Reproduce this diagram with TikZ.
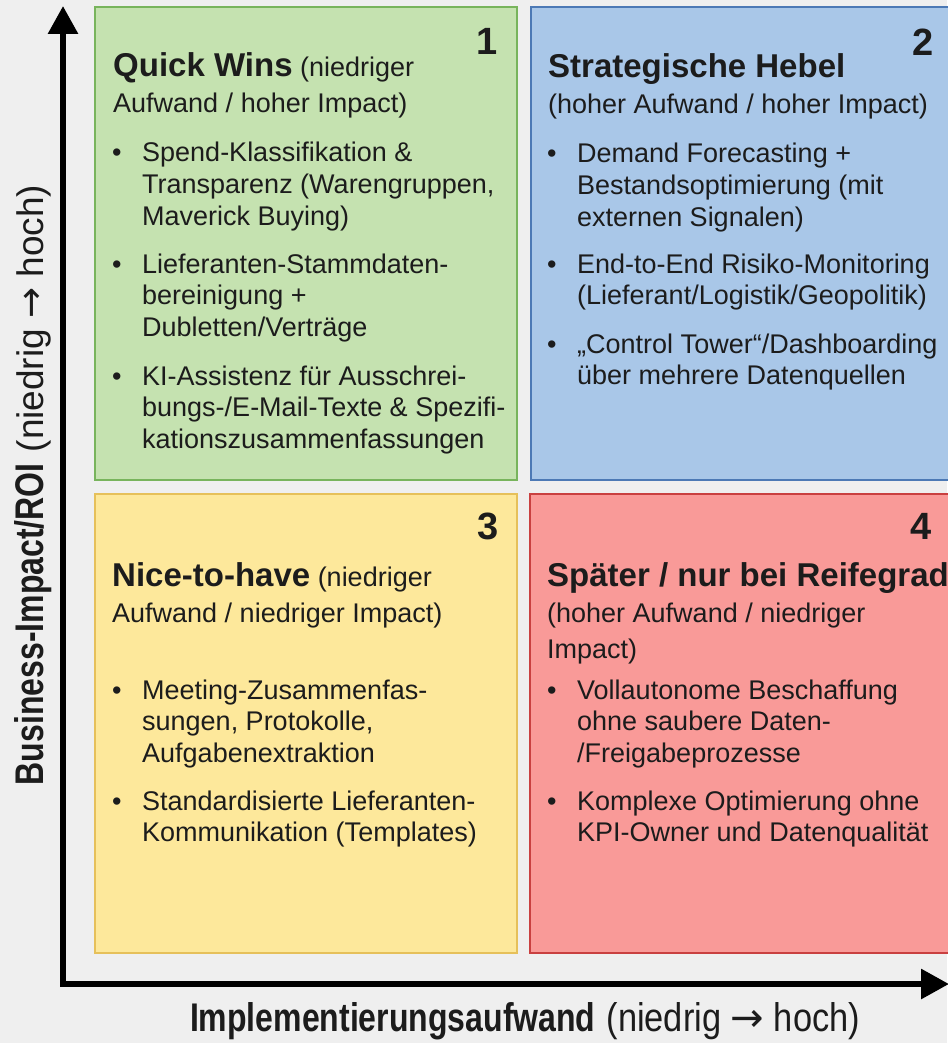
\documentclass[tikz,border=0pt]{standalone}
\usepackage{fontspec}
\setmainfont{Liberation Sans}
\newfontfamily\condfont[FakeStretch=0.80]{Liberation Sans}
\newfontfamily\condfontR[FakeStretch=0.86]{Liberation Sans}
\newfontfamily\arrowfont{DejaVu Sans}
\usetikzlibrary{arrows.meta}
\definecolor{bgc}{HTML}{EFEFEF}
\definecolor{txt}{HTML}{1C1C1C}
\definecolor{gfill}{HTML}{C5E2B0}
\definecolor{gline}{HTML}{78B45C}
\definecolor{bfill}{HTML}{A9C7E8}
\definecolor{bline}{HTML}{4C79B5}
\definecolor{yfill}{HTML}{FDE89B}
\definecolor{yline}{HTML}{E6C05A}
\definecolor{rfill}{HTML}{F99A98}
\definecolor{rline}{HTML}{C94040}
\newcommand{\qlines}[1]{\begin{tabular}[t]{@{}l@{}}#1\end{tabular}}
\newcommand{\bul}{\makebox[30pt][l]{•}}
\newcommand{\ttlfont}{\fontsize{33}{36}\selectfont\bfseries}
\newcommand{\rarr}{{\arrowfont →}}
\tikzset{
  quad/.style={line width=1.6pt},
  num/.style={font=\fontsize{38}{40}\selectfont\bfseries, inner sep=0pt, anchor=center, text=txt},
  ttl/.style={font=\fontsize{27}{36}\selectfont, inner sep=0pt, anchor=base west, text=txt},
  itm/.style={font=\fontsize{27}{31.5}\selectfont, inner sep=0pt, anchor=base west, text=txt},
  axis/.style={line width=6pt, line join=miter, draw=black,
    {Triangle[length=28pt,width=29pt]}-{Triangle[length=28pt,width=29pt]}},
  axlabel/.style={font=\fontsize{40}{44}\selectfont, inner sep=0pt, text=txt}
}
\begin{document}
\begin{tikzpicture}[x=1pt,y=-1pt]
\useasboundingbox (0,0) rectangle (947,1043);
\fill[bgc] (0,0) rectangle (947,1043);

% quadrants
\draw[quad, draw=gline, fill=gfill] (95,7) rectangle (517,480);
\draw[quad, draw=bline, fill=bfill] (531,7) rectangle (965,480);
\draw[quad, draw=yline, fill=yfill] (95,494) rectangle (517,953);
\draw[quad, draw=rline, fill=rfill] (530,494) rectangle (965,953);

% axes
\coordinate (ytip) at (63,6);
\coordinate (origin) at (63,984);
\coordinate (xtip) at (949,984);
\draw[axis] (ytip) -- (origin) -- (xtip);

% quadrant 1
\node[num] (n1) at (487,41) {1};
\node[ttl] (t1) at (113,77) {\qlines{{\ttlfont Quick Wins} (niedriger\\Aufwand / hoher Impact)}};
\node[itm] (g1) at (112,162) {\bul\qlines{Spend-Klassifikation \&\\Transparenz (Warengruppen,\\Maverick Buying)}};
\node[itm] (g2) at (112,273) {\bul\qlines{Lieferanten-Stammdaten-\\bereinigung +\\Dubletten/Verträge}};
\node[itm] (g3) at (112,385) {\bul\qlines{KI-Assistenz für Ausschrei-\\bungs-/E-Mail-Texte \& Spezifi-\\kationszusammenfassungen}};

% quadrant 2
\node[num] (n2) at (923,42) {2};
\node[ttl] (t2) at (548,78) {\qlines{{\ttlfont Strategische Hebel}\\(hoher Aufwand / hoher Impact)}};
\node[itm] (b1) at (547,163) {\bul\qlines{Demand Forecasting +\\Bestandsoptimierung (mit\\externen Signalen)}};
\node[itm] (b2) at (547,273) {\bul\qlines{End-to-End Risiko-Monitoring\\(Lieferant/Logistik/Geopolitik)}};
\node[itm] (b3) at (547,353) {\bul\qlines{„Control Tower“/Dashboarding\\über mehrere Datenquellen}};

% quadrant 3
\node[num] (n3) at (488,526) {3};
\node[ttl] (t3) at (112,586) {\qlines{{\ttlfont Nice-to-have} (niedriger\\Aufwand / niedriger Impact)}};
\node[itm] (y1) at (112,699) {\bul\qlines{Meeting-Zusammenfas-\\sungen, Protokolle,\\Aufgabenextraktion}};
\node[itm] (y2) at (112,810) {\bul\qlines{Standardisierte Lieferanten-\\Kommunikation (Templates)}};

% quadrant 4
\node[num] (n4) at (921,526) {4};
\node[ttl] (t4) at (547,586) {\qlines{{\ttlfont Später / nur bei Reifegrad}\\(hoher Aufwand / niedriger\\Impact)}};
\node[itm] (r1) at (547,699) {\bul\qlines{Vollautonome Beschaffung\\ohne saubere Daten-\\/Freigabeprozesse}};
\node[itm] (r2) at (547,810) {\bul\qlines{Komplexe Optimierung ohne\\KPI-Owner und Datenqualität}};

% axis labels
\node[axlabel, anchor=base, rotate=90] (ylab) at (43,485)
  {{\condfont\bfseries Business-Impact/ROI} {\fontsize{37}{40}\selectfont (niedrig \rarr{} hoch)}};
\node[axlabel, anchor=base] (xlab) at (525,1031)
  {{\condfont\bfseries Implementierungsaufwand} {\condfontR (niedrig \rarr{} hoch)}};
\end{tikzpicture}
\end{document}
